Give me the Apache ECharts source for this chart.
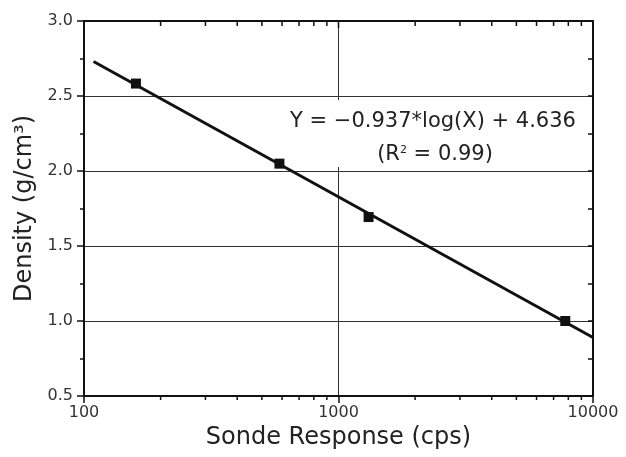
<!DOCTYPE html>
<html>
<head>
<meta charset="utf-8">
<script src="https://cdn.jsdelivr.net/npm/echarts@6/dist/echarts.min.js"></script>
<style>
  html, body { margin: 0; padding: 0; background: #fff; }
  #chart { width: 626px; height: 457px; }
</style>
</head>
<body>
<div id="chart"></div>
<script>
const sondeCps = [160, 586, 1313, 7780]
const density = [2.583, 2.049, 1.693, 1.0]

// fitted line Y = -0.937*log(X) + 4.636, end points as drawn
const fitX = [109, 10000]
const fitY = [2.73, 0.89]

// log minor ticks between the decades
const xMinorTicks = [200, 300, 400, 500, 600, 700, 800, 900, 2000, 3000, 4000, 5000, 6000, 7000, 8000, 9000]

const FONT = 'DejaVu Sans'

const chart = echarts.init(document.getElementById('chart'))

chart.setOption({
  backgroundColor: '#ffffff',
  animation: false,
  grid: { left: 84, right: 33, top: 21, bottom: 61 },
  xAxis: [{
    type: 'log', logBase: 10, min: 100, max: 10000,
    name: 'Sonde Response (cps)', nameLocation: 'middle', nameGap: 28,
    nameTextStyle: { fontFamily: FONT, fontSize: 24, color: '#222' },
    axisLine: { lineStyle: { color: '#111', width: 2 } },
    axisTick: { inside: false, length: 7, lineStyle: { color: '#111', width: 1.5 } },
    axisLabel: { fontFamily: FONT, fontSize: 16, color: '#333', margin: 9, formatter: v => String(Math.round(v)) },
    splitLine: { show: true, lineStyle: { color: '#333', width: 1 } },
    minorTick: { show: false }
  }, {
    type: 'log', logBase: 10, min: 100, max: 10000, position: 'top',
    axisLine: { lineStyle: { color: '#111', width: 2 } },
    axisTick: { show: false },
    axisLabel: { show: false },
    splitLine: { show: false }
  }],
  yAxis: [{
    type: 'value', min: 0.5, max: 3.0, interval: 0.5,
    name: 'Density (g/cm³)', nameLocation: 'middle', nameGap: 47,
    nameTextStyle: { fontFamily: FONT, fontSize: 24, color: '#222' },
    axisLine: { show: true, lineStyle: { color: '#111', width: 2 } },
    axisTick: { show: true, inside: false, length: 7, lineStyle: { color: '#111', width: 1.5 } },
    minorTick: { show: true, splitNumber: 2, length: 4, lineStyle: { color: '#111', width: 1.5 } },
    axisLabel: { fontFamily: FONT, fontSize: 16, color: '#333', margin: 11, formatter: v => v.toFixed(1) },
    splitLine: { show: true, lineStyle: { color: '#333', width: 1 } }
  }, {
    type: 'value', min: 0.5, max: 3.0, interval: 0.5, position: 'right',
    axisLine: { show: true, lineStyle: { color: '#111', width: 2 } },
    axisTick: { show: true, inside: true, length: 5, lineStyle: { color: '#111', width: 1.5 } },
    minorTick: { show: true, splitNumber: 2, length: 5, lineStyle: { color: '#111', width: 1.5 } },
    axisLabel: { show: false },
    splitLine: { show: false }
  }],
  series: [{
    type: 'line',
    data: fitX.map((x, i) => [x, fitY[i]]),
    symbol: 'none',
    lineStyle: { color: '#111', width: 3 },
    z: 3
  }, {
    type: 'scatter',
    data: sondeCps.map((x, i) => [x, density[i]]),
    symbol: 'rect', symbolSize: 10,
    itemStyle: { color: '#111', opacity: 1 },
    z: 4
  }]
})

// minor log ticks (outward on bottom, inward on top) + equation box
function drawExtras() {
  const yBottom = chart.convertToPixel({ yAxisIndex: 0 }, 0.5)
  const yTop = chart.convertToPixel({ yAxisIndex: 0 }, 3.0)
  const elements = []
  xMinorTicks.forEach(function (v) {
    const px = chart.convertToPixel({ xAxisIndex: 0 }, v)
    elements.push({ type: 'line', shape: { x1: px, y1: yBottom, x2: px, y2: yBottom + 4 }, style: { stroke: '#111', lineWidth: 1.5 }, silent: true })
    elements.push({ type: 'line', shape: { x1: px, y1: yTop, x2: px, y2: yTop + 5 }, style: { stroke: '#111', lineWidth: 1.5 }, silent: true })
  })
  ;[100, 1000, 10000].forEach(function (v) {
    const px = chart.convertToPixel({ xAxisIndex: 0 }, v)
    elements.push({ type: 'line', shape: { x1: px, y1: yTop, x2: px, y2: yTop + 7 }, style: { stroke: '#111', lineWidth: 1.5 }, silent: true })
  })
  elements.push({
    type: 'rect', shape: { x: 287, y: 100, width: 299, height: 67 },
    style: { fill: '#fff' }, z: 10, silent: true
  })
  elements.push({
    type: 'text', x: 433, y: 122, z: 11,
    style: { text: 'Y = −0.937*log(X) + 4.636', font: '21px "' + FONT + '"', fill: '#222', align: 'center', verticalAlign: 'middle' }
  })
  elements.push({
    type: 'text', x: 435, y: 155, z: 11,
    style: {
      text: '(R{s|2} = 0.99)', font: '21px "' + FONT + '"', fill: '#222', align: 'center', verticalAlign: 'middle',
      rich: { s: { fontSize: 11, fontFamily: FONT, fill: '#222', verticalAlign: 'top', padding: [0, 0, 9, 0] } }
    }
  })
  chart.setOption({ graphic: elements })
}
drawExtras()
</script>
</body>
</html>
